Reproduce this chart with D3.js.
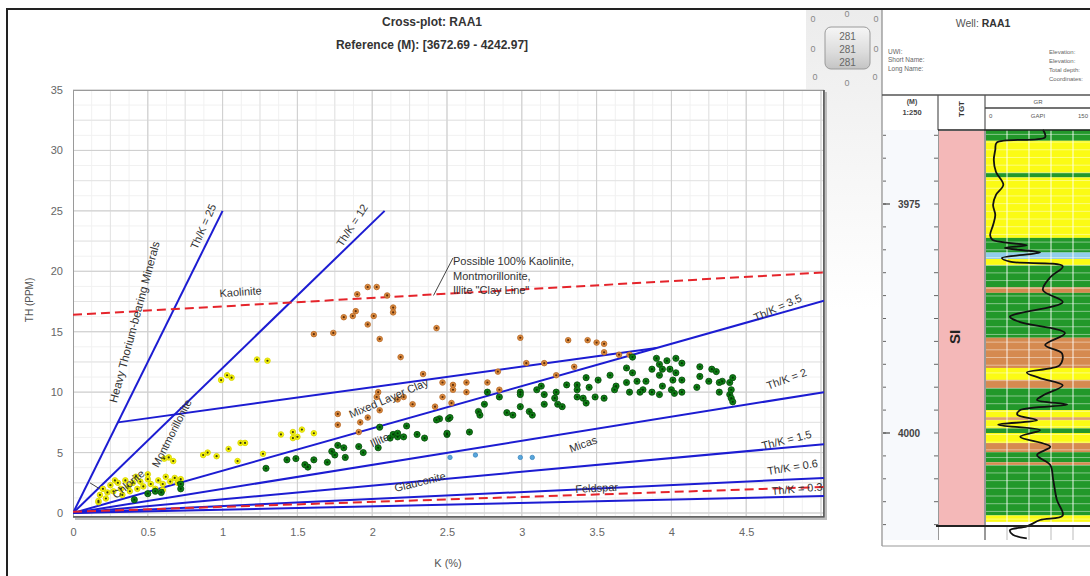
<!DOCTYPE html>
<html>
<head>
<meta charset="utf-8">
<script src="https://cdn.jsdelivr.net/npm/d3@7"></script>
<style>
  html, body { margin: 0; padding: 0; background: #fff; }
  svg { display: block; font-family: "Liberation Sans", "DejaVu Sans", sans-serif; }
</style>
</head>
<body>
<svg id="chart" width="1090" height="576"></svg>
<script>
// ---------- Cross-plot data: K (%) vs Th (ppm) ----------
const kTicks = [0, 0.5, 1, 1.5, 2, 2.5, 3, 3.5, 4, 4.5];
const thTicks = [0, 5, 10, 15, 20, 25, 30, 35];

const yellowPoints = [
  [1.23, 12.7], [1.30, 12.6], [0.99, 11.0], [1.03, 11.4], [1.06, 11.2],
  [1.39, 6.5], [1.47, 6.7], [1.50, 6.3], [1.53, 6.9], [1.47, 6.2], [1.61, 6.6],
  [1.12, 5.8], [1.15, 5.8], [1.04, 5.3], [0.90, 5.0], [0.96, 4.7], [0.87, 4.8],
  [1.10, 4.3], [1.27, 4.9], [0.61, 4.5], [0.64, 4.6], [0.67, 4.3],
  [0.17, 0.9], [0.17, 1.0], [0.18, 1.5], [0.20, 2.0], [0.22, 1.2], [0.23, 1.7],
  [0.25, 2.3], [0.27, 1.8], [0.28, 2.7], [0.30, 2.5], [0.32, 2.0], [0.33, 1.5],
  [0.35, 2.7], [0.37, 2.2], [0.38, 1.8], [0.40, 2.5], [0.42, 3.0], [0.43, 2.0],
  [0.45, 2.6], [0.47, 2.2], [0.50, 2.8], [0.50, 3.2], [0.52, 2.4], [0.55, 2.0],
  [0.57, 2.7], [0.60, 2.4], [0.60, 1.9], [0.62, 3.0], [0.65, 2.6], [0.68, 2.9],
  [0.70, 2.5], [0.72, 2.8]
];

const orangePoints = [
  [1.97, 18.7], [2.03, 18.7], [1.90, 18.1], [2.10, 18.0], [2.14, 17.0], [2.14, 16.6],
  [1.89, 16.7], [1.87, 16.3], [1.81, 16.2], [2.01, 16.3], [1.97, 15.6], [1.61, 14.8],
  [1.74, 14.9], [2.05, 14.4], [2.19, 12.9], [2.43, 15.3], [2.34, 11.5], [2.47, 10.8],
  [2.47, 9.6], [2.42, 8.8], [2.27, 9.0], [2.17, 9.4], [2.21, 9.6], [2.04, 10.0],
  [2.03, 9.6], [2.05, 8.5], [1.77, 8.2], [1.77, 7.3], [1.92, 7.5], [1.97, 7.9],
  [1.91, 6.7], [2.99, 14.5], [3.31, 14.3], [3.44, 14.3], [3.50, 14.1], [3.55, 14.0],
  [3.55, 13.3], [3.65, 13.1], [3.72, 13.1], [3.03, 12.4], [3.15, 12.4], [3.35, 12.1],
  [2.84, 11.7], [3.23, 11.4], [2.54, 10.6], [2.63, 10.8], [2.54, 10.2], [2.63, 10.0],
  [2.77, 10.8], [2.85, 10.2], [2.53, 9.1]
];

const greenPoints = [
  [0.72, 2.0], [0.72, 2.4], [0.50, 1.6], [0.55, 1.8], [0.59, 1.7], [0.41, 1.1],
  [1.29, 3.7], [1.43, 4.4], [1.49, 4.5], [1.57, 3.8], [1.55, 4.0], [1.61, 4.4],
  [1.70, 4.2], [1.73, 5.1], [1.77, 5.6], [1.81, 5.4], [1.75, 4.8], [1.82, 4.6],
  [1.91, 5.5], [1.94, 5.0], [2.04, 5.4], [2.05, 7.1], [2.12, 6.2], [2.14, 6.5],
  [2.17, 6.3], [2.21, 6.3], [2.17, 6.6], [2.23, 7.2], [2.30, 6.5], [2.35, 6.2],
  [2.45, 7.8], [2.51, 7.8], [2.50, 6.5],
  [3.74, 12.9], [3.90, 12.8], [3.92, 12.3], [3.97, 12.6], [4.03, 12.8], [4.07, 12.4],
  [3.94, 11.9], [3.99, 11.9], [4.03, 11.6], [4.07, 11.0], [4.19, 12.1], [4.27, 11.9],
  [4.30, 11.7], [4.34, 10.9], [4.39, 10.8], [4.41, 11.2], [3.70, 12.0], [3.74, 11.6],
  [3.59, 11.4], [3.43, 11.2], [3.37, 10.6], [3.51, 11.0], [3.45, 10.4], [3.30, 10.6],
  [3.23, 10.0], [3.13, 10.5], [2.99, 10.0], [3.81, 10.2], [3.87, 10.0], [3.94, 10.5],
  [4.00, 10.2], [4.07, 10.0], [4.17, 10.4], [3.63, 10.5], [3.72, 10.0], [3.77, 10.9],
  [3.83, 10.9], [3.92, 11.4], [4.01, 11.0], [4.32, 10.0], [4.39, 9.8], [4.19, 11.3],
  [3.87, 11.9], [2.43, 7.7], [2.52, 7.9], [2.50, 6.6], [2.65, 6.7], [2.71, 8.4],
  [2.72, 8.1], [2.75, 9.0], [2.90, 8.3], [2.94, 8.1], [2.99, 9.8], [3.05, 8.4],
  [3.07, 8.1], [3.10, 10.2], [3.15, 9.8], [3.15, 9.0], [3.22, 9.5], [3.24, 9.0],
  [3.27, 8.8], [3.37, 9.6], [3.37, 10.2], [3.41, 9.5], [3.43, 9.1], [3.49, 9.6],
  [3.55, 9.5], [3.62, 10.2], [3.70, 10.8], [3.79, 10.0], [3.92, 9.8], [4.02, 9.9],
  [4.25, 10.9], [4.32, 10.8], [4.40, 10.2], [4.40, 9.5], [4.41, 9.2], [2.85, 9.6],
  [2.99, 8.8], [2.77, 10.0]
];

const bluePoints = [[2.52, 4.6], [2.69, 4.8], [2.99, 4.6], [3.07, 4.6]];

// Th/K ratio lines and boundaries: [k0, th0, k1, th1]
const ratioLines = [
  [0, 0, 1.0, 25], [0, 0, 2.083, 25], [0, 0, 5.02, 17.57],
  [0, 0, 5.02, 10.0], [0, 0, 5.02, 5.7], [0, 0, 5.02, 2.9], [0, 0, 5.02, 1.4],
  [0.30, 7.5, 3.9, 13.65]
];
const dashedLines = [[0, 16.4, 5.02, 19.9], [0, 0.1, 5.02, 2.16]];
const leaderLines = [[2.41, 18.0, 2.54, 21.1], [0.114, 2.49, 0.18, 1.99]];

// Zone labels: text, anchor (K, Th), rotation
const zoneLabels = [
  { text: "Th/K = 25", k: 0.87, th: 23.7, rot: -66 },
  { text: "Th/K = 12", k: 1.865, th: 23.8, rot: -57 },
  { text: "Heavy Thorium-bearing Minerals", k: 0.41, th: 15.8, rot: -75 },
  { text: "Kaolinite", k: 1.12, th: 18.3, rot: -4 },
  { text: "Th/K = 3.5", k: 4.71, th: 17.0, rot: -24 },
  { text: "Th/K = 2", k: 4.77, th: 11.1, rot: -20 },
  { text: "Th/K = 1.5", k: 4.77, th: 6.05, rot: -14 },
  { text: "Th/K = 0.6", k: 4.81, th: 3.8, rot: -9 },
  { text: "Th/K = 0.3", k: 4.84, th: 2.0, rot: -5 },
  { text: "Mixed Layer Clay", k: 2.11, th: 9.5, rot: -23 },
  { text: "Illite", k: 2.05, th: 6.05, rot: -24 },
  { text: "Micas", k: 3.41, th: 5.7, rot: -20 },
  { text: "Glauconite", k: 2.32, th: 2.57, rot: -14 },
  { text: "Feldspar", k: 3.5, th: 2.07, rot: -3 },
  { text: "Chlorite", k: 0.37, th: 2.4, rot: -40 },
  { text: "Montmorillonite", k: 0.66, th: 6.6, rot: -63 }
];
const clayLineNote = ["Possible 100% Kaolinite,", "Montmorillonite,", "Illite \"Clay Line\""];

// ---------- Well log data ----------
const depthLabels = [3975, 4000];
const lithBands = [
  [3966.9, 3968.1, "shale"], [3968.1, 3971.6, "sand"], [3971.6, 3972.1, "shale"],
  [3972.1, 3978.7, "sand"], [3978.7, 3980.3, "shale"], [3980.3, 3981.0, "wet"],
  [3981.0, 3981.7, "sand"], [3981.7, 3984.1, "shale"], [3984.1, 3984.7, "silt"],
  [3984.7, 3989.6, "shale"], [3989.6, 3992.9, "silt"], [3992.9, 3994.2, "sand"],
  [3994.2, 3995.1, "silt"], [3995.1, 3997.5, "shale"], [3997.5, 3998.3, "sand"],
  [3998.3, 3998.6, "silt"], [3998.6, 3999.5, "sand"], [3999.5, 4000.0, "shale"],
  [4000.0, 4001.1, "sand"], [4001.1, 4002.1, "silt"], [4002.1, 4003.2, "shale"],
  [4003.2, 4003.5, "silt"], [4003.5, 4009.0, "shale"], [4009.0, 4009.7, "sand"]
];
const grDepth = [3966.9, 3967.7, 3968.3, 3969.1, 3970.2, 3971.5, 3972.9, 3974.0, 3975.1,
  3976.2, 3977.3, 3978.4, 3978.9, 3979.5, 3979.8, 3980.3, 3980.9, 3981.3, 3981.8, 3983.0,
  3984.4, 3985.7, 3987.3, 3987.9, 3989.1, 3990.4, 3991.3, 3992.6, 3993.4, 3994.0, 3994.8,
  3995.9, 3996.4, 3996.9, 3997.5, 3998.0, 3998.6, 3999.1, 3999.7, 4000.4, 4001.5, 4002.4,
  4003.5, 4005.1, 4007.3, 4009.0, 4009.5, 4010.2, 4010.6, 4011.1, 4011.5];
const grValues = [79, 82, 16, 14, 12, 15, 25, 15, 11,
  14, 11, 7, 10, 57, 27, 75, 23, 34, 106, 89,
  79, 106, 34, 48, 109, 82, 105, 102, 57, 75, 106,
  79, 71, 112, 48, 44, 71, 18, 75, 48, 89, 71,
  89, 93, 98, 106, 75, 57, 34, 38, 57];

// ---------- Drawing ----------
const svg = d3.select("#chart");
const defs = svg.append("defs");

const x = d3.scaleLinear().domain([0, 5.02]).range([73, 824]);
const y = d3.scaleLinear().domain([-0.33, 35]).range([517, 90]);

// panel frame
const sideGrad = defs.append("linearGradient").attr("id", "sideGrad")
  .attr("x1", 0).attr("y1", 0).attr("x2", 0).attr("y2", 1);
sideGrad.append("stop").attr("offset", "0%").attr("stop-color", "#ececec");
sideGrad.append("stop").attr("offset", "100%").attr("stop-color", "#ffffff");
svg.append("rect").attr("x", 806).attr("y", 10).attr("width", 76).attr("height", 300)
  .attr("fill", "url(#sideGrad)");

svg.append("line").attr("x1", 6).attr("x2", 1090).attr("y1", 9).attr("y2", 9)
  .attr("stroke", "#222").attr("stroke-width", 2);
svg.append("line").attr("x1", 7).attr("x2", 7).attr("y1", 8).attr("y2", 576)
  .attr("stroke", "#222").attr("stroke-width", 2);

// titles
svg.append("text").attr("x", 432).attr("y", 26).attr("text-anchor", "middle")
  .attr("font-size", 12).attr("font-weight", "bold").attr("fill", "#333")
  .text("Cross-plot: RAA1");
svg.append("text").attr("x", 432).attr("y", 49).attr("text-anchor", "middle")
  .attr("font-size", 12).attr("font-weight", "bold").attr("fill", "#333")
  .text("Reference (M): [3672.69 - 4242.97]");

// point-count spinner
const spinGrad = defs.append("linearGradient").attr("id", "spinGrad")
  .attr("x1", 0).attr("y1", 0).attr("x2", 0).attr("y2", 1);
spinGrad.append("stop").attr("offset", "0%").attr("stop-color", "#f6f6f6");
spinGrad.append("stop").attr("offset", "60%").attr("stop-color", "#dcdcdc");
spinGrad.append("stop").attr("offset", "100%").attr("stop-color", "#c4c4c4");
svg.append("rect").attr("x", 825).attr("y", 27).attr("width", 45).attr("height", 42)
  .attr("rx", 6).attr("fill", "url(#spinGrad)").attr("stroke", "#9a9a9a");
["281", "281", "281"].forEach((t, i) => {
  svg.append("text").attr("x", 847.5).attr("y", 40 + i * 13).attr("text-anchor", "middle")
    .attr("font-size", 10).attr("fill", "#666").text(t);
});
[[813, 22], [847, 17], [876, 22], [813, 52], [876, 52], [815, 80], [847, 86], [875, 80]]
  .forEach(([px, py]) => {
    svg.append("text").attr("x", px).attr("y", py).attr("text-anchor", "middle")
      .attr("font-size", 9).attr("fill", "#888").text("0");
  });

// plot background and grid
const plot = svg.append("g");
plot.append("rect").attr("x", 73).attr("y", 90).attr("width", 751).attr("height", 427)
  .attr("fill", "#fff");
defs.append("clipPath").attr("id", "plotClip").append("rect")
  .attr("x", 73).attr("y", 90).attr("width", 751).attr("height", 427);

const grid = plot.append("g");
function vGrid(step, color) {
  grid.append("g").selectAll("line").data(d3.range(step, 5.02, step)).join("line")
    .attr("x1", d => x(d)).attr("x2", d => x(d)).attr("y1", 90).attr("y2", 517)
    .attr("stroke", color).attr("stroke-width", 1);
}
function hGrid(step, color) {
  grid.append("g").selectAll("line").data(d3.range(0, 35.01, step)).join("line")
    .attr("x1", 73).attr("x2", 824).attr("y1", d => y(d)).attr("y2", d => y(d))
    .attr("stroke", color).attr("stroke-width", 1);
}
vGrid(0.125, "#f1f1f1"); hGrid(1.25, "#f1f1f1");
vGrid(0.25, "#e3e3e3"); hGrid(2.5, "#e3e3e3");
vGrid(0.5, "#cfcfcf"); hGrid(5, "#cfcfcf");

// plot border with shadow edge
plot.append("rect").attr("x", 73.5).attr("y", 90.5).attr("width", 750).attr("height", 426)
  .attr("fill", "none").attr("stroke", "#9a9a9a");
plot.append("path").attr("d", "M826,92 V519 H75").attr("fill", "none")
  .attr("stroke", "#bdbdbd").attr("stroke-width", 2);
plot.append("path").attr("d", "M824,90 V517 H73").attr("fill", "none")
  .attr("stroke", "#555").attr("stroke-width", 1.6);

// axes
const xAxis = svg.append("g").attr("transform", "translate(0,517)")
  .call(d3.axisBottom(x).tickValues(kTicks).tickSize(0).tickPadding(11).tickFormat(d => d));
const yAxis = svg.append("g").attr("transform", "translate(73,0)")
  .call(d3.axisLeft(y).tickValues(thTicks).tickSize(0).tickPadding(10).tickFormat(d => d));
[xAxis, yAxis].forEach(a => {
  a.select(".domain").remove();
  a.selectAll("text").attr("font-size", 11).attr("fill", "#666")
    .attr("font-family", "Liberation Sans, DejaVu Sans, sans-serif");
});
svg.append("text").attr("x", 448).attr("y", 567).attr("text-anchor", "middle")
  .attr("font-size", 11).attr("fill", "#555").text("K (%)");
svg.append("text").attr("transform", "translate(33,300) rotate(-90)")
  .attr("text-anchor", "middle").attr("font-size", 10).attr("fill", "#555").text("TH (PPM)");

// lines
const lines = plot.append("g").attr("clip-path", "url(#plotClip)");
lines.selectAll(".ratio").data(ratioLines).join("line").attr("class", "ratio")
  .attr("x1", d => x(d[0])).attr("y1", d => y(d[1]))
  .attr("x2", d => x(d[2])).attr("y2", d => y(d[3]))
  .attr("stroke", "#1c1cd2").attr("stroke-width", 2);
lines.selectAll(".dashed").data(dashedLines).join("line").attr("class", "dashed")
  .attr("x1", d => x(d[0])).attr("y1", d => y(d[1]))
  .attr("x2", d => x(d[2])).attr("y2", d => y(d[3]))
  .attr("stroke", "#e5242b").attr("stroke-width", 2).attr("stroke-dasharray", "9,5");
lines.selectAll(".leader").data(leaderLines).join("line").attr("class", "leader")
  .attr("x1", d => x(d[0])).attr("y1", d => y(d[1]))
  .attr("x2", d => x(d[2])).attr("y2", d => y(d[3]))
  .attr("stroke", "#444").attr("stroke-width", 1);

// points
const pts = plot.append("g").attr("clip-path", "url(#plotClip)");
function drawPoints(data, fill, rim, dot, r) {
  const g = pts.append("g");
  g.selectAll("circle.m").data(data).join("circle").attr("class", "m")
    .attr("cx", d => x(d[0])).attr("cy", d => y(d[1])).attr("r", r)
    .attr("fill", fill).attr("stroke", rim).attr("stroke-width", 0.8);
  if (dot) {
    g.selectAll("circle.c").data(data).join("circle").attr("class", "c")
      .attr("cx", d => x(d[0])).attr("cy", d => y(d[1])).attr("r", 1.1)
      .attr("fill", dot);
  }
}
drawPoints(yellowPoints, "#f4f20a", "#d8d400", "#3a3a10", 2.8);
drawPoints(orangePoints, "#da8a3e", "#b86a28", "#5a2c0c", 2.8);
drawPoints(greenPoints, "#0d7e14", "#064a0a", "#063806", 3.1);
drawPoints(bluePoints, "#58a6dc", "#3c88c0", null, 2.2);

// labels
const labels = plot.append("g");
labels.selectAll("text").data(zoneLabels).join("text")
  .attr("transform", d => `translate(${x(d.k)},${y(d.th)}) rotate(${d.rot})`)
  .attr("text-anchor", "middle").attr("dy", "0.35em")
  .attr("font-size", d => d.text.startsWith("Heavy") ? 11.5 : 11)
  .attr("fill", "#333").text(d => d.text);
const note = labels.append("text").attr("x", x(2.54)).attr("y", y(20.5))
  .attr("font-size", 11).attr("fill", "#333");
note.selectAll("tspan").data(clayLineNote).join("tspan")
  .attr("x", x(2.54)).attr("dy", (d, i) => i === 0 ? 0 : 14.5).text(d => d);

// ---------- Well panel ----------
const well = svg.append("g");
const dY = d3.scaleLinear().domain([3975, 4000]).range([204, 433]);
const gX = d3.scaleLinear().domain([0, 150]).range([985, 1095]);
const trackTop = 130, trackBottom = 526;

well.append("rect").attr("x", 882).attr("y", 10).attr("width", 208).attr("height", 536)
  .attr("fill", "#fff");
well.append("line").attr("x1", 882).attr("x2", 882).attr("y1", 10).attr("y2", 546)
  .attr("stroke", "#8a8a8a").attr("stroke-width", 1.2);
well.append("line").attr("x1", 882).attr("x2", 1090).attr("y1", 546).attr("y2", 546)
  .attr("stroke", "#9a9a9a").attr("stroke-width", 1.2);

const wt = well.append("text").attr("x", 983).attr("y", 27).attr("text-anchor", "middle")
  .attr("font-size", 10.5).attr("fill", "#555");
wt.append("tspan").text("Well: ");
wt.append("tspan").attr("font-weight", "bold").attr("fill", "#333").text("RAA1");

[["UWI:", 52], ["Short Name:", 60], ["Long Name:", 69]].forEach(([t, py]) => {
  well.append("text").attr("x", 888).attr("y", py + 2).attr("font-size", 6.5)
    .attr("fill", "#666").text(t);
});
[["Elevation:", 52], ["Elevation:", 61], ["Total depth:", 70], ["Coordinates:", 79]]
  .forEach(([t, py]) => {
    well.append("text").attr("x", 1049).attr("y", py + 2).attr("font-size", 6)
      .attr("fill", "#666").text(t);
  });

// header
well.append("line").attr("x1", 882).attr("x2", 1090).attr("y1", 95).attr("y2", 95)
  .attr("stroke", "#555").attr("stroke-width", 1.5);
[938, 985].forEach(px => well.append("line").attr("x1", px).attr("x2", px)
  .attr("y1", 95).attr("y2", 540).attr("stroke", "#555").attr("stroke-width", 1.2));
well.append("line").attr("x1", 985).attr("x2", 1090).attr("y1", 108).attr("y2", 108)
  .attr("stroke", "#444").attr("stroke-width", 1.3);
well.append("text").attr("x", 912).attr("y", 104).attr("text-anchor", "middle")
  .attr("font-size", 7).attr("font-weight", "bold").attr("fill", "#444").text("(M)");
well.append("text").attr("x", 912).attr("y", 115).attr("text-anchor", "middle")
  .attr("font-size", 7.5).attr("font-weight", "bold").attr("fill", "#444").text("1:250");
well.append("text").attr("transform", "translate(964,109) rotate(-90)")
  .attr("text-anchor", "middle").attr("font-size", 8).attr("font-weight", "bold")
  .attr("fill", "#333").text("TGT");
well.append("text").attr("x", 1038).attr("y", 104).attr("text-anchor", "middle")
  .attr("font-size", 6).attr("fill", "#555").text("GR");
well.append("text").attr("x", 989).attr("y", 118).attr("font-size", 6).attr("fill", "#555").text("0");
well.append("text").attr("x", 1038).attr("y", 118).attr("text-anchor", "middle")
  .attr("font-size", 6).attr("fill", "#555").text("GAPI");
well.append("text").attr("x", 1088).attr("y", 118).attr("text-anchor", "end")
  .attr("font-size", 6).attr("fill", "#555").text("150");

// depth track
well.append("rect").attr("x", 883).attr("y", trackTop).attr("width", 55)
  .attr("height", trackBottom - trackTop + 14).attr("fill", "#f7f9fc");
const depthTicks = d3.range(3967.5, 4010.1, 2.5);
well.append("g").selectAll("line").data(depthTicks).join("line")
  .attr("x1", 883).attr("x2", 886).attr("y1", d => dY(d)).attr("y2", d => dY(d))
  .attr("stroke", "#666");
well.append("g").selectAll("line").data(depthTicks).join("line")
  .attr("x1", 934).attr("x2", 938).attr("y1", d => dY(d)).attr("y2", d => dY(d))
  .attr("stroke", "#666");
well.append("g").selectAll("text").data(depthLabels).join("text")
  .attr("x", 909).attr("y", d => dY(d)).attr("dy", "0.35em").attr("text-anchor", "middle")
  .attr("font-size", 10).attr("font-weight", "bold").attr("fill", "#444").text(d => d);
well.append("g").selectAll("line").data(depthLabels).join("line")
  .attr("x1", 883).attr("x2", 890).attr("y1", d => dY(d)).attr("y2", d => dY(d))
  .attr("stroke", "#555").attr("stroke-width", 1.3);

// zone (TGT) track
well.append("rect").attr("x", 939).attr("y", trackTop + 1).attr("width", 45)
  .attr("height", trackBottom - trackTop - 1).attr("fill", "#f4b8b8");
well.append("text").attr("transform", `translate(960,${dY(3989.5)}) rotate(-90)`)
  .attr("text-anchor", "middle").attr("font-size", 15).attr("font-weight", "bold")
  .attr("fill", "#222").text("SI");

// GR track: lithology fill
const lithColor = { sand: "#fbfb14", shale: "#22982a", silt: "#d58a50", wet: "#92cdea" };
defs.append("clipPath").attr("id", "grClip").append("rect")
  .attr("x", 985).attr("y", 100).attr("width", 110).attr("height", 446);
const gr = well.append("g").attr("clip-path", "url(#grClip)");
gr.selectAll("rect.lith").data(lithBands).join("rect").attr("class", "lith")
  .attr("x", 986).attr("width", 110)
  .attr("y", d => dY(d[0])).attr("height", d => dY(d[1]) - dY(d[0]))
  .attr("fill", d => lithColor[d[2]]);
// grid inside the log track
gr.append("g").selectAll("line").data(d3.range(3967.4, 4009.7, 0.84)).join("line")
  .attr("x1", 986).attr("x2", 1095).attr("y1", d => dY(d)).attr("y2", d => dY(d))
  .attr("stroke", "#fff").attr("stroke-opacity", 0.45).attr("stroke-width", 1);
gr.append("g").selectAll("line").data([30, 60, 90, 120]).join("line")
  .attr("x1", d => gX(d)).attr("x2", d => gX(d)).attr("y1", trackTop).attr("y2", 540)
  .attr("stroke", "#fff").attr("stroke-opacity", 0.75).attr("stroke-width", 1.2);
gr.append("g").selectAll("line").data([30, 60, 90, 120]).join("line")
  .attr("x1", d => gX(d)).attr("x2", d => gX(d)).attr("y1", trackBottom).attr("y2", 540)
  .attr("stroke", "#bbb").attr("stroke-width", 1);

// track top / bottom lines
well.append("line").attr("x1", 938).attr("x2", 1090).attr("y1", trackTop).attr("y2", trackTop)
  .attr("stroke", "#222").attr("stroke-width", 1.6);
well.append("line").attr("x1", 936).attr("x2", 1090).attr("y1", trackBottom).attr("y2", trackBottom)
  .attr("stroke", "#222").attr("stroke-width", 2);

// GR curve
const grLine = d3.line().x(d => gX(d[1])).y(d => dY(d[0])).curve(d3.curveCatmullRom.alpha(0.5));
gr.append("path").datum(grDepth.map((d, i) => [d, grValues[i]]))
  .attr("d", grLine).attr("fill", "none").attr("stroke", "#111").attr("stroke-width", 1.8);
</script>
</body>
</html>
